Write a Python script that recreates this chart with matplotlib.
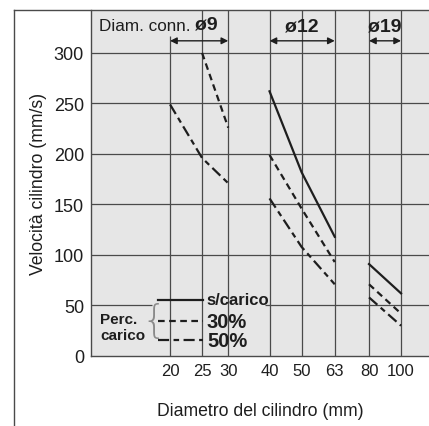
import numpy as np
import matplotlib
matplotlib.use("Agg")
import matplotlib.pyplot as plt
from matplotlib.lines import Line2D

plt.rcParams['font.family'] = ['Liberation Sans', 'DejaVu Sans']

### Data ###

bore = [20, 25, 30, 40, 50, 63, 80, 100]          # cylinder diameter (mm)
port = [9, 9, 9, 12, 12, 12, 19, 19]               # connection diameter group
no_load = [np.nan, np.nan, np.nan, 262, 182, 118, 91, 62]
load30 = [np.nan, 300, 226, 199, 146, 93, 71, 42]
load50 = [249, 196, 171, 156, 108, 71, 58, 30]

x_ticks = [20, 25, 30, 40, 50, 63, 80, 100]
y_ticks = [0, 50, 100, 150, 200, 250, 300]

series = [
    ('s/carico', no_load, (None, None)),
    ('30%', load30, (0, (3, 2))),
    ('50%', load50, (0, (5, 2, 2.5, 2))),
]

bg = '#e6e6e6'
grid_c = '#4a4a4a'
ink = '#1e1e1e'

fig = plt.figure(figsize=(4.29, 4.27), dpi=100)
ax = fig.add_axes([91 / 429, 70 / 427, 338 / 429, 346 / 427])
ax.set_facecolor(bg)
ax.set_xscale('log')
ax.set_xlim(11.53, 121.5)
ax.set_ylim(0, 342.5)

## grid: vertical lines at every bore, horizontal lines every 50
for xv in x_ticks:
    top = 317 if xv == 20 else 342.5
    ax.vlines(xv, 0, top, color=grid_c, lw=0.9, zorder=1)
for yv in y_ticks[1:]:
    if yv == 50:
        # the legend sits over part of this line
        ax.hlines(yv, 11.53, 17.6, color=grid_c, lw=0.9, zorder=1)
        ax.hlines(yv, 38.8, 121.5, color=grid_c, lw=0.9, zorder=1)
    else:
        ax.hlines(yv, 11.53, 121.5, color=grid_c, lw=0.9, zorder=1)

## curves, one piece per connection group
bore_a = np.array(bore)
port_a = np.array(port)
for name, vals, ls in series:
    vals = np.array(vals, dtype=float)
    for g in [9, 12, 19]:
        m = (port_a == g) & ~np.isnan(vals)
        if m.sum() < 2:
            continue
        kw = dict(color=ink, lw=1.6, zorder=3)
        if ls[0] is None:
            ax.plot(bore_a[m], vals[m], '-', **kw)
        else:
            ax.plot(bore_a[m], vals[m], linestyle=ls, **kw)

## axes, ticks, labels
for s in ['top', 'right']:
    ax.spines[s].set_visible(False)
ax.spines['left'].set_color(grid_c)
ax.spines['bottom'].set_color(grid_c)
ax.spines['left'].set_linewidth(1.0)
ax.spines['bottom'].set_linewidth(1.0)
ax.set_xticks(x_ticks)
ax.set_xticklabels([str(v) for v in x_ticks], fontsize=12, color=ink)
ax.xaxis.set_minor_locator(matplotlib.ticker.NullLocator())
ax.set_yticks(y_ticks)
ax.set_yticklabels([str(v) for v in y_ticks], fontsize=13, color=ink)
ax.tick_params(length=0, pad=5)
ax.set_xlabel('Diametro del cilindro (mm)', fontsize=12.7, color=ink, labelpad=17)
ax.set_ylabel('Velocità cilindro (mm/s)', fontsize=12.7, color=ink, labelpad=5)

## header: connection diameters with double arrows
t = ax.text(0.024, 323, 'Diam. conn. ', transform=ax.get_yaxis_transform(),
            fontsize=12.3, color=ink, va='baseline', ha='left')
ax.annotate('ø9', xy=(1, 0), xycoords=t, va='bottom', ha='left',
            fontsize=14, fontweight='bold', color=ink)
ax.text(50, 327, 'ø12', fontsize=14, fontweight='bold', color=ink,
        ha='center', va='center')
ax.text(np.sqrt(80 * 100), 327, 'ø19', fontsize=14, fontweight='bold', color=ink,
        ha='center', va='center')
for a, b in [(20, 30), (40, 63), (80, 100)]:
    ax.annotate('', xy=(a, 312), xytext=(b, 312),
                arrowprops=dict(arrowstyle='<|-|>', color=ink, lw=1.0,
                                mutation_scale=10, shrinkA=0, shrinkB=0))

## hand-made legend
leg_y = [0.162, 0.101, 0.046]
for (name, vals, ls), yy in zip(series, leg_y):
    ln = Line2D([0.198, 0.331], [yy, yy], transform=ax.transAxes, color=ink,
                lw=1.6, zorder=4, linestyle='-' if ls[0] is None else ls)
    ax.add_line(ln)
    ax.text(0.343, yy, name, transform=ax.transAxes, va='center', ha='left',
            fontsize=12 if name == 's/carico' else 14.5, fontweight='bold',
            color=ink)
ax.text(0.027, 0.107, 'Perc.', transform=ax.transAxes, va='center', ha='left',
        fontsize=11, fontweight='bold', color=ink)
ax.text(0.027, 0.061, 'carico', transform=ax.transAxes, va='center', ha='left',
        fontsize=11, fontweight='bold', color=ink)
ax.text(0.185, 0.10, '{', transform=ax.transAxes, va='center', ha='center',
        fontsize=28, color='#8a8a8a', family='DejaVu Sans', fontweight='light')

## outer frame of the figure
fig.add_artist(Line2D([14 / 429, 14 / 429], [0, 416 / 427], color=grid_c, lw=1.0))
fig.add_artist(Line2D([14 / 429, 1], [416 / 427, 416 / 427], color=grid_c, lw=1.0))

fig.savefig('out.png', dpi=100)
